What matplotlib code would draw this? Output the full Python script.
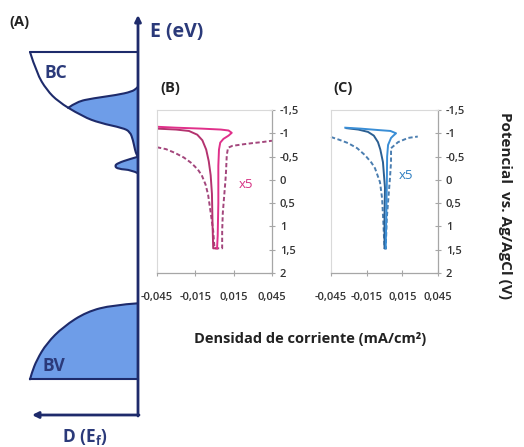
import numpy as np
import matplotlib
matplotlib.use("Agg")
import matplotlib.pyplot as plt
from matplotlib.path import Path
from matplotlib.patches import PathPatch

plt.rcParams['font.family'] = ['Open Sans', 'DejaVu Sans']

# ---------------- Panel A: schematic density of states (D, E) ----------------
bc_top_D = [0.0, 1.08]
bc_top_E = [3.63, 3.63]
bc_curve_upper = [(1.08, 3.63), (1.013, 3.417), (0.913, 3.25), (0.797, 3.133), (0.697, 3.072)]
bc_curve_lower = [(0.697, 3.072), (0.55, 2.983), (0.38, 2.92), (0.15, 2.87), (0.08, 2.833),
                  (0.05, 2.75), (0.03, 2.65), (0.013, 2.6), (0.0, 2.583)]
bump_upper = [(0.0, 3.283), (0.013, 3.267), (0.063, 3.233), (0.213, 3.2), (0.45, 3.167),
              (0.613, 3.133), (0.697, 3.072)]
small_bump = [(0.0, 2.583), (0.08, 2.56), (0.2, 2.52), (0.235, 2.49), (0.2, 2.46),
              (0.063, 2.45), (0.0, 2.417)]
bv_curve = [(0.0, 1.117), (0.25, 1.10), (0.513, 1.033), (0.747, 0.883), (0.913, 0.717),
            (1.013, 0.55), (1.063, 0.42), (1.08, 0.357)]
bv_bottom_E = 0.357
axis_top_E = 4.0
axis_left_D = 1.06

# ---------------- Panel B (magenta) ----------------
b_fwd_x = [-0.045, -0.03, -0.01, 0.005, 0.011, 0.0135, 0.011, 0.007, 0.0045, 0.0035, 0.003, 0.003, 0.0025, 0.002]
b_fwd_y = [-1.14, -1.12, -1.10, -1.08, -1.06, -1.01, -0.95, -0.88, -0.80, -0.65, -0.3, 0.5, 1.2, 1.47]
b_rev_x = [0.002, -0.001, -0.0015, -0.002, -0.003, -0.0045, -0.0065, -0.0095, -0.0135, -0.02, -0.03, -0.045]
b_rev_y = [1.47, 1.47, 1.0, 0.3, -0.1, -0.4, -0.65, -0.85, -0.97, -1.05, -1.08, -1.10]
b_dash_x = [-0.045, -0.038, -0.031, -0.024, -0.018, -0.013, -0.01, -0.007, -0.005, -0.003, -0.001, 0.0,
            0.006, 0.006, 0.0065, 0.0086, 0.009, 0.0096, 0.0106, 0.014, 0.0215, 0.03, 0.037, 0.045]
b_dash_y = [-0.70, -0.66, -0.58, -0.48, -0.36, -0.22, -0.1, 0.1, 0.32, 0.7, 1.1, 1.47,
            1.47, 1.1, 0.71, 0.0, -0.17, -0.53, -0.69, -0.73, -0.76, -0.79, -0.81, -0.84]

# ---------------- Panel C (blue) ----------------
c_fwd_x = [-0.033, -0.02, -0.0055, 0.005, 0.0097, 0.0075, 0.0055, 0.003, 0.0022, 0.002, 0.0015, 0.001]
c_fwd_y = [-1.12, -1.10, -1.07, -1.05, -1.0, -0.95, -0.9, -0.75, -0.5, 0.0, 0.8, 1.47]
c_rev_x = [0.001, 0.0, 0.0, 0.0004, -0.0013, -0.0035, -0.0055, -0.009, -0.0139, -0.022, -0.032]
c_rev_y = [1.47, 1.47, 0.8, 0.17, -0.38, -0.65, -0.81, -0.95, -1.03, -1.08, -1.11]
c_dash_x = [-0.045, -0.038, -0.0307, -0.023, -0.0164, -0.011, -0.008, -0.0038, -0.002, -0.001, 0.0,
            0.001, 0.002, 0.0038, 0.0046, 0.0055, 0.0055, 0.0114, 0.0198, 0.028]
c_dash_y = [-0.92, -0.86, -0.79, -0.68, -0.53, -0.37, -0.25, 0.05, 0.4, 0.9, 1.47,
            1.47, 0.8, 0.22, -0.04, -0.38, -0.68, -0.81, -0.9, -0.93]

x_ticks = [-0.045, -0.015, 0.015, 0.045]
x_labels = ['-0,045', '-0,015', '0,015', '0,045']
y_ticks = [-1.5, -1, -0.5, 0, 0.5, 1, 1.5, 2]
y_labels = ['-1,5', '-1', '-0,5', '0', '0,5', '1', '1,5', '2']

W, H = 524, 447
fig = plt.figure(figsize=(W / 100, H / 100), dpi=100)

NAVY = '#1e2b6b'
FILL = '#6e9de8'


def px(x, y):
    return x / W, 1 - y / H


def smooth_parts(pts):
    pts = np.asarray(pts, float)
    verts = [pts[0]]
    codes = [Path.MOVETO]
    n = len(pts)
    if n == 2:
        verts.append(pts[1]); codes.append(Path.LINETO)
    for i in range(1, n - 1):
        end = pts[n - 1] if i == n - 2 else (pts[i] + pts[i + 1]) / 2
        verts += [pts[i], end]
        codes += [Path.CURVE3, Path.CURVE3]
    return verts, codes


def smooth_path(*segments, close=False, extra=None):
    verts, codes = [], []
    for k, seg in enumerate(segments):
        v, c = smooth_parts(seg)
        if k > 0:
            c[0] = Path.LINETO
        verts += v; codes += c
    if extra:
        for p in extra:
            verts.append(p); codes.append(Path.LINETO)
    if close:
        verts.append(verts[0]); codes.append(Path.CLOSEPOLY)
    return Path(verts, codes)


# Panel A axes: D increases to the left
axA = fig.add_axes([0, 0, 150 / W, 1])
axA.set_xlim(1.38, -0.12)
axA.set_ylim(-0.32, 4.15)
axA.axis('off')

axA.add_patch(PathPatch(smooth_path(bump_upper, bc_curve_lower, close=True),
                        facecolor=FILL, edgecolor='none'))
axA.add_patch(PathPatch(smooth_path(small_bump, close=True), facecolor=FILL, edgecolor='none'))
axA.add_patch(PathPatch(smooth_path(bv_curve, close=True, extra=[(0.0, bv_bottom_E)]),
                        facecolor=FILL, edgecolor='none'))
lw = 1.5
axA.plot(bc_top_D, bc_top_E, color=NAVY, lw=lw, solid_capstyle='round')
for pts in (bc_curve_upper, bc_curve_lower, bump_upper, small_bump, bv_curve):
    axA.add_patch(PathPatch(smooth_path(pts), facecolor='none', edgecolor=NAVY, lw=lw,
                            capstyle='round', joinstyle='round'))
axA.plot([bv_curve[-1][0], 0.0], [bv_bottom_E, bv_bottom_E], color=NAVY, lw=lw)
axA.annotate('', xy=(0, axis_top_E), xytext=(0, -0.01),
             arrowprops=dict(arrowstyle='-|>', color=NAVY, lw=2, mutation_scale=9,
                             shrinkA=0, shrinkB=0))
axA.annotate('', xy=(axis_left_D, 0), xytext=(-0.01, 0),
             arrowprops=dict(arrowstyle='-|>', color=NAVY, lw=2, mutation_scale=9,
                             shrinkA=0, shrinkB=0))

fig.text(*px(9, 22), '(A)', fontsize=10.5, fontweight='bold', color='#222222', va='center')
fig.text(*px(150, 32), 'E (eV)', fontsize=14, fontweight='bold', color='#2b3a7a', va='center')
fig.text(*px(44, 73), 'BC', fontsize=12.5, fontweight='bold', color='#2b3a7a', va='center')
fig.text(*px(43, 366), 'BV', fontsize=12.5, fontweight='bold', color='#2b3a7a', va='center')
fig.text(*px(62, 437), r'D (E$_\mathregular{f}$)', fontsize=12.5, fontweight='bold',
         color='#2b3a7a', va='center')


def cv_axes(left, right, top, bottom):
    ax = fig.add_axes([left / W, 1 - bottom / H, (right - left) / W, (bottom - top) / H])
    ax.set_xlim(-0.045, 0.045)
    ax.set_ylim(2, -1.5)
    for s in ('left', 'top'):
        ax.spines[s].set_color('#d9d9d9'); ax.spines[s].set_linewidth(0.8)
    for s in ('right', 'bottom'):
        ax.spines[s].set_color('#a6a6a6'); ax.spines[s].set_linewidth(0.9)
    ax.yaxis.tick_right()
    ax.set_yticks(y_ticks)
    ax.set_yticklabels(y_labels)
    ax.set_xticks(x_ticks)
    ax.set_xticklabels(x_labels)
    ax.tick_params(axis='y', direction='inout', length=5, width=0.8, color='#a6a6a6',
                   labelsize=8, labelcolor='#333333', pad=3)
    ax.tick_params(axis='x', direction='inout', length=5, width=0.8, color='#a6a6a6',
                   labelsize=8, labelcolor='#333333', pad=11)
    for t in ax.get_xticklabels() + ax.get_yticklabels():
        t.set_fontweight('semibold')
    return ax


axB = cv_axes(157, 272, 110, 273)
axB.plot(b_dash_x, b_dash_y, color='#a3467c', lw=1.4, dashes=(2.2, 1.3), clip_on=False)
axB.plot(b_rev_x, b_rev_y, color='#b4336f', lw=1.4)
axB.plot(b_fwd_x, b_fwd_y, color='#e0308a', lw=1.4)
axB.text(0.019, 0.1, 'x5', color='#d63384', fontsize=9.5, va='center')

axC = cv_axes(331, 438, 110, 273)
axC.plot(c_dash_x, c_dash_y, color='#4b7eb0', lw=1.4, dashes=(2.2, 1.3), clip_on=False)
axC.plot(c_rev_x, c_rev_y, color='#2b5f92', lw=1.4)
axC.plot(c_fwd_x, c_fwd_y, color='#3a8ed6', lw=1.4)
axC.text(0.012, -0.1, 'x5', color='#2f7fc1', fontsize=9.5, va='center')

fig.text(*px(160, 88), '(B)', fontsize=10.5, fontweight='bold', color='#222222', va='center')
fig.text(*px(333, 88), '(C)', fontsize=10.5, fontweight='bold', color='#222222', va='center')
fig.text(*px(310, 339), 'Densidad de corriente (mA/cm²)', fontsize=10.5,
         fontweight='bold', color='#222222', ha='center', va='center')
fig.text(*px(505, 205), 'Potencial  vs. Ag/AgCl (V)', fontsize=11, fontweight='bold',
         color='#222222', ha='center', va='center', rotation=-90)

fig.savefig('out.png', dpi=100)
